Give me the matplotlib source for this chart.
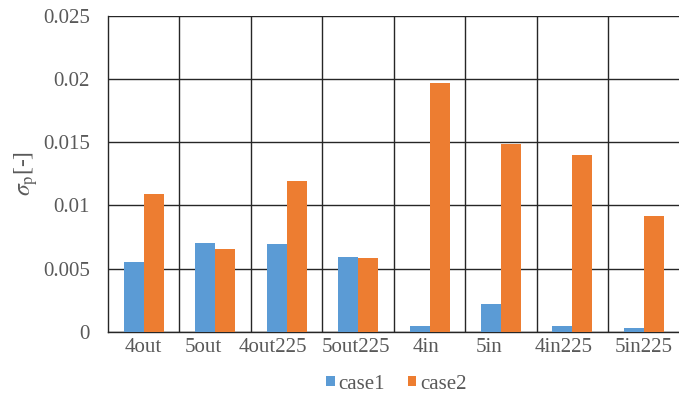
import matplotlib
matplotlib.use("Agg")
import matplotlib.pyplot as plt
import matplotlib.transforms as mtransforms
import numpy as np

categories = ["4out", "5out", "4out225", "5out225", "4in", "5in", "4in225", "5in225"]
case1 = [0.00555, 0.0070, 0.00695, 0.0059, 0.0005, 0.0022, 0.00045, 0.0003]
case2 = [0.0109, 0.00655, 0.0119, 0.00585, 0.0197, 0.0149, 0.0140, 0.0092]
# horizontal nudges of the category labels (pixels), as in the original
label_shift = [0, -12, -14, -2, -4, -12, -9, 0]

plt.rcParams["font.family"] = ["Liberation Serif", "DejaVu Serif"]
plt.rcParams["mathtext.fontset"] = "stix"
plt.rcParams["font.size"] = 15

fig = plt.figure(figsize=(6.79, 3.97), dpi=100)
ax = fig.add_axes([0.159, 0.164, 0.842, 0.796])

x = np.arange(len(categories))
w = 0.28
ax.bar(x - w / 2, case1, w, color="#5B9BD5", label="case1", zorder=3)
ax.bar(x + w / 2, case2, w, color="#ED7D31", label="case2", zorder=3)

ax.set_xlim(-0.5, len(categories) - 0.5)
ax.set_ylim(0, 0.025)
ax.set_yticks(np.arange(0, 0.0251, 0.005))
ax.set_yticklabels(["0", "0.005", "0.01", "0.015", "0.02", "0.025"], color="#595959")
ax.set_xticks(x)
ax.set_xticklabels([])
for xi, name, dx in zip(x, categories, label_shift):
    tr = ax.get_xaxis_transform() + mtransforms.ScaledTranslation(dx / 100, -0.06, fig.dpi_scale_trans)
    ax.text(xi, 0, name, transform=tr, ha="center", va="top", color="#595959")
ax.set_xticks(np.arange(0.5, len(categories) - 0.5, 1), minor=True)
ax.tick_params(which="both", length=0)
ax.tick_params(axis="y", pad=13)
ax.grid(True, axis="y", color="#262626", linewidth=1.0, zorder=0)
ax.grid(True, axis="x", which="minor", color="#262626", linewidth=1.0, zorder=0)
ax.grid(False, axis="x", which="major")
for s in ["top", "right"]:
    ax.spines[s].set_visible(False)
for s in ["left", "bottom"]:
    ax.spines[s].set_color("#262626")
    ax.spines[s].set_linewidth(1.0)

ax.set_ylabel(r"$\sigma_{\mathrm{p}}$[-]", fontsize=17, color="#595959", labelpad=2)

ax.legend(loc="center", bbox_to_anchor=(0.505, -0.165), ncol=2, frameon=False,
          handlelength=0.4, handleheight=0.4, handletextpad=0.2, columnspacing=1.1,
          labelcolor="#595959", borderpad=0)

fig.savefig("out.png", dpi=100)
